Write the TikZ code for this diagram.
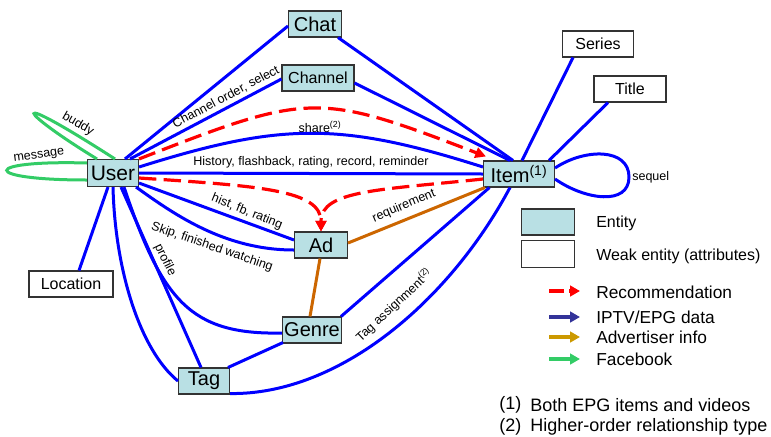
\documentclass[tikz,border=0pt]{standalone}
\usepackage{fontspec}
\setmainfont{Liberation Sans}
\usetikzlibrary{arrows.meta,calc}
\definecolor{entfill}{RGB}{185,224,228}
\definecolor{edgeblue}{RGB}{0,0,255}
\definecolor{recred}{RGB}{255,0,0}
\definecolor{advorange}{RGB}{204,102,0}
\definecolor{fbgreen}{RGB}{51,204,102}
\definecolor{legblue}{RGB}{51,51,153}
\definecolor{legorange}{RGB}{204,153,0}
\definecolor{bordergray}{RGB}{51,51,51}
\begin{document}
\begin{tikzpicture}[x=0.75pt,y=-0.75pt,
  entity/.style={draw=bordergray, line width=0.8pt, fill=entfill, inner sep=0pt, minimum height=19.5pt, font=\fontsize{15}{15}\selectfont},
  weak/.style={draw=bordergray, line width=0.8pt, fill=white, inner sep=0pt, minimum height=19.5pt, font=\fontsize{12}{12}\selectfont},
  rel/.style={draw=edgeblue, line width=2.25pt},
  adv/.style={draw=advorange, line width=2.25pt},
  fb/.style={draw=fbgreen, line width=2.25pt},
  rec/.style={draw=recred, line width=2.4pt, dash pattern=on 13pt off 5.5pt, -{Triangle[length=8pt,width=8pt]}},
  lbl/.style={font=\fontsize{9.4}{10}\selectfont, inner sep=0pt},
  legsmall/.style={anchor=west, inner sep=0pt, font=\fontsize{12}{12}\selectfont},
  legtxt/.style={anchor=west, inner sep=0pt, font=\fontsize{13}{13}\selectfont},
  foot/.style={anchor=west, inner sep=0pt, font=\fontsize{13.5}{14}\selectfont},
  legarrow/.style={line width=3pt, -{Triangle[length=7.5pt,width=8pt]}}
]
\useasboundingbox (0,0) rectangle (771,436);

% nodes
\node[entity, minimum width=39.75pt] (chat) at (315,24) {Chat};
\node[entity, minimum width=54pt, font=\fontsize{12}{12}\selectfont] (channel) at (318,78) {Channel};
\node[entity, minimum width=38.25pt, minimum height=20.25pt, font=\fontsize{15.75}{16}\selectfont] (user) at (113,173) {User};
\node[weak, minimum width=53.25pt] (series) at (598,44) {Series};
\node[weak, minimum width=54pt] (title) at (630,89) {Title};
\node[entity, minimum width=53.25pt] (item) at (519,174) {Item\textsuperscript{(1)}};
\node[entity, minimum width=39.75pt] (ad) at (321,245) {Ad};
\node[entity, minimum width=44.25pt] (genre) at (312,330) {Genre};
\node[entity, minimum width=38.25pt] (tag) at (204,381) {Tag};
\node[weak, minimum width=63pt] (location) at (71,284) {Location};
\coordinate (seqtip) at (629,177);

% green (Facebook)
\draw[fb] ($(user.north)+(2,0)$) .. controls (0,85) and (20,112) .. ($(user.north)+(-16,0)$);
\draw[fb] ($(user.west)+(0,-10)$) .. controls (-20,160) and (-20,180) .. ($(user.west)+(0,7)$);

% blue edges
\draw[rel] ($(user.north)+(12,0)$) -- ($(chat.west)+(0,2)$);
\draw[rel] ($(chat.south east)+(-4,0)$) -- ($(item.north)+(-6,0)$);
\draw[rel] ($(user.north)+(17,0)$) -- ($(channel.west)+(0,1)$);
\draw[rel] ($(channel.east)+(0,5)$) -- ($(item.north)+(-9,0)$);
\draw[rel] ($(user.east)+(0,-6)$) .. controls (282,122) and (341,122) .. ($(item.west)+(0,-7)$);
\draw[rel] (user.east) -- (item.west);
\draw[rel] ($(user.south east)+(0,-4)$) -- ($(ad.west)+(0,-5)$);
\draw[rel] ($(user.south east)+(-3,0)$) .. controls (175,215) and (225,250) .. ($(ad.west)+(0,5)$);
\draw[rel] ($(user.south)+(11,0)$) .. controls (162,300) and (190,335) .. ($(genre.west)+(0,3)$);
\draw[rel] ($(user.south)+(8,0)$) -- ($(tag.north)+(-3,0)$);
\draw[rel] (user.south) .. controls (115,270) and (140,350) .. (tag.west);
\draw[rel] ($(user.south)+(-5,0)$) -- ($(location.north)+(8,0)$);
\draw[rel] ($(genre.north east)+(-1,0)$) -- ($(item.south west)+(6.5,0)$);
\draw[rel] ($(genre.south west)+(1,-1)$) -- ($(tag.north east)+(-2,0)$);
\draw[rel] ($(tag.south east)+(0,-1)$) .. controls (340,395) and (450,300) .. ($(item.south)+(-9,0)$);
\draw[rel] ($(item.north)+(3,0)$) -- ($(series.south)+(-25,0)$);
\draw[rel] ($(item.north east)+(-6,0)$) -- ($(title.south)+(-22,0)$);
\draw[rel] ($(item.east)+(0,-6)$) .. controls (585,148) and (629,148) .. (seqtip) .. controls (629,206) and (585,200) .. ($(item.east)+(0,5)$);

% orange edges
\draw[adv] ($(ad.south)+(-1,0)$) -- ($(genre.north)+(-2,0)$);
\draw[adv] ($(ad.east)+(0,-2)$) -- ($(item.south west)+(2,0)$);

% red recommendation
\draw[rec] (user.north east) .. controls (310,92) and (318,92) .. ($(item.north west)+(3,-4)$);
\draw[rec] ($(user.east)+(0,5)$) .. controls (260,186) and (321,190) .. (ad.north);
\draw[rec] ($(item.west)+(0,5)$) .. controls (380,190) and (321,190) .. (ad.north);

% edge labels
\node[lbl, rotate=8] (lmsg) at (39,156) {message};
\node[lbl, rotate=-30] (lbud) at (78,124) {buddy};
\node[lbl, rotate=28] (lchan) at (226,97) {Channel order, select};
\node[lbl] (lshare) at (320,127) {share\textsuperscript{(2)}};
\node[lbl] (lhist) at (311,162) {History, flashback, rating, record, reminder};
\node[lbl, rotate=-22] (lhfr) at (247,212) {hist, fb, rating};
\node[lbl, rotate=-19] (lskip) at (212,247) {Skip, finished watching};
\node[lbl, rotate=-64] (lprof) at (165,260) {profile};
\node[lbl, rotate=23] (lreq) at (404,206) {requirement};
\node[lbl, rotate=43] (ltag) at (394,305) {Tag assignment\textsuperscript{(2)}};
\node[lbl, anchor=west] (lseq) at (632,177) {sequel};

% legend
\node[entity, minimum width=39.75pt] (legent) at (548,222) {};
\node[weak, minimum width=39.75pt, minimum height=20.25pt] (legweak) at (548,254) {};
\node[legsmall] (tent) at (596,223) {Entity};
\node[legsmall] (tweak) at (596,256) {Weak entity (attributes)};
\coordinate (ra) at (549,291); \coordinate (rb) at (580,291);
\coordinate (ia) at (549,317); \coordinate (ib) at (580,317);
\coordinate (aa) at (549,337); \coordinate (ab) at (580,337);
\coordinate (fa) at (549,359); \coordinate (fbb) at (580,359);
\draw[legarrow, recred, dash pattern=on 11pt off 4pt] (ra) -- (rb);
\draw[legarrow, legblue] (ia) -- (ib);
\draw[legarrow, legorange] (aa) -- (ab);
\draw[legarrow, fbgreen] (fa) -- (fbb);
\node[legtxt] (trec) at (596,292) {Recommendation};
\node[legtxt] (tiptv) at (596,317) {IPTV/EPG data};
\node[legtxt] (tadv) at (596,337) {Advertiser info};
\node[legtxt] (tfb) at (596,359) {Facebook};

% footnotes
\node[foot] (f1n) at (499,405) {(1)};
\node[foot] (f1t) at (530,405) {Both EPG items and videos};
\node[foot] (f2n) at (499,427) {(2)};
\node[foot] (f2t) at (530,427) {Higher-order relationship type};
\end{tikzpicture}
\end{document}
